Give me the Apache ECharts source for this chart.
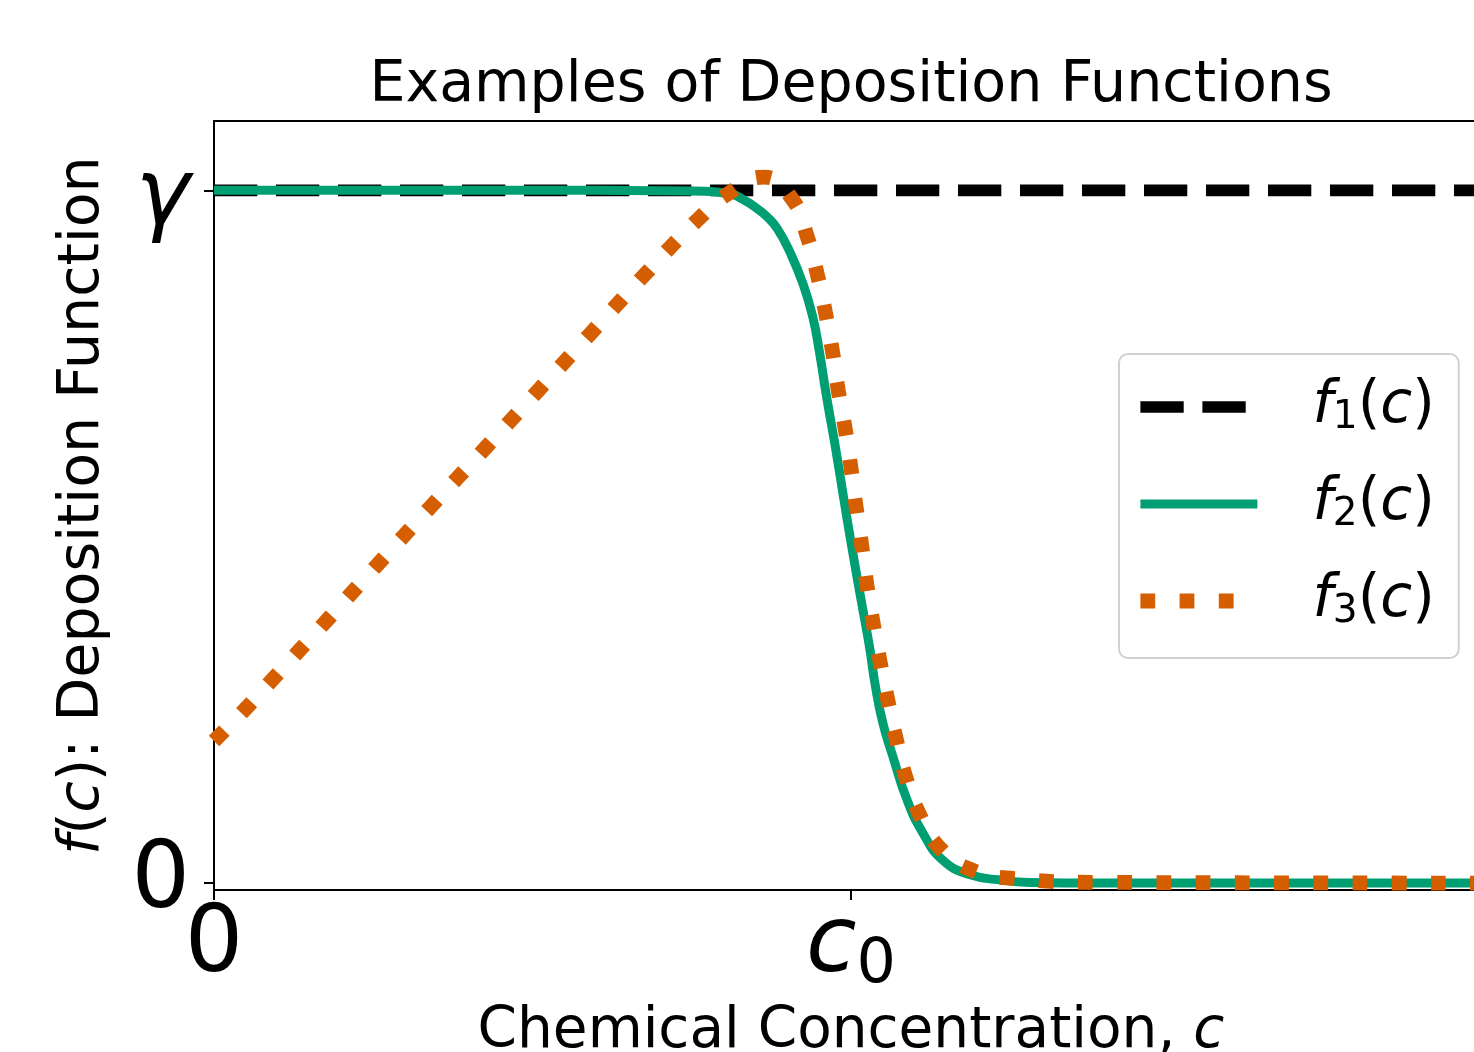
<!DOCTYPE html>
<html>
<head>
<meta charset="utf-8">
<script src="https://cdn.jsdelivr.net/npm/echarts@6/dist/echarts.min.js"></script>
<style>
html,body{margin:0;padding:0;background:#fff;}
#chart{width:1474px;height:1052px;}
</style>
</head>
<body>
<div id="chart"></div>
<script>
// ---------------- data ----------------
const seriesNames = ['f1', 'f2', 'f3'];

const f1C    = [0, 2];
const f1Vals = [1, 1];

const f2C    = [0, 0.449, 0.747, 0.810, 0.830, 0.852, 0.868, 0.884, 0.904, 0.925, 0.940, 0.950, 0.962, 0.975, 0.989, 1.002, 1.016, 1.029, 1.038, 1.050, 1.066, 1.088, 1.113, 1.144, 1.187, 1.239, 1.281, 1.391, 2.0];
const f2Vals = [1, 1, 0.999, 0.995, 0.987, 0.974, 0.962, 0.945, 0.911, 0.864, 0.817, 0.769, 0.700, 0.632, 0.553, 0.481, 0.408, 0.341, 0.286, 0.231, 0.182, 0.120, 0.072, 0.033, 0.012, 0.004, 0.001, 0, 0];

const f3C    = [0, 0.048, 0.090, 0.173, 0.257, 0.341, 0.424, 0.508, 0.592, 0.676, 0.761, 0.807, 0.863, 0.908, 0.931, 0.947, 0.960, 0.971, 0.980, 0.991, 1.000, 1.008, 1.017, 1.025, 1.035, 1.046, 1.058, 1.071, 1.086, 1.107, 1.140, 1.189, 1.250, 1.400, 2.000];
const f3Vals = [0.205, 0.250, 0.292, 0.375, 0.460, 0.544, 0.626, 0.710, 0.794, 0.878, 0.959, 0.995, 1.019, 0.987, 0.934, 0.879, 0.823, 0.767, 0.711, 0.655, 0.599, 0.543, 0.486, 0.430, 0.374, 0.318, 0.263, 0.208, 0.153, 0.100, 0.050, 0.019, 0.007, 0.001, 0];

const xTickValues = [0, 1];
const xTickLabels = ['{n|0}', '{i|c}{s|0}'];
const yTickValues = [0, 1];
const yTickLabels = ['{n|0}', '{g|γ}'];
const legendLabels = ['{g|f}{s|1}{n|(}{i|c}{n|)}', '{g|f}{s|2}{n|(}{i|c}{n|)}', '{g|f}{s|3}{n|(}{i|c}{n|)}'];

const titleText = 'Examples of Deposition Functions';
const xName = '{n|Chemical Concentration, }{i|c}';
const yName = '{i|f}{n|(}{i|c}{n|): Deposition Function}';

// ---------------- styling ----------------
const FONT = 'DejaVu Sans';
const BLACK = '#000000', GREEN = '#009E73', ORANGE = '#D55E00';
const TXT = 57;
const LEG = 58;

function zip(a, b) { return a.map((v, i) => [v, b[i]]); }

const chart = echarts.init(document.getElementById('chart'), null, {renderer: 'canvas'});

const tickRich = {
  n: {fontFamily: FONT, fontSize: 92, lineHeight: 100, color: '#000'},
  i: {fontFamily: FONT, fontSize: 92, lineHeight: 100, fontStyle: 'italic', color: '#000'},
  g: {fontFamily: FONT, fontSize: 92, lineHeight: 100, fontStyle: 'italic', color: '#000', padding: [20, 0, 0, 0]},
  s: {fontFamily: FONT, fontSize: 62, lineHeight: 59, verticalAlign: 'bottom', color: '#000'}
};
const yNameRich = {
  n: {fontFamily: FONT, fontSize: TXT, lineHeight: TXT, color: '#000'},
  i: {fontFamily: FONT, fontSize: TXT, lineHeight: TXT, fontStyle: 'italic', color: '#000'}
};
const xNameRich = {
  n: {fontFamily: FONT, fontSize: 56.5, lineHeight: 56.5, color: '#000'},
  i: {fontFamily: FONT, fontSize: 56.5, lineHeight: 56.5, fontStyle: 'italic', color: '#000'}
};

const lineStyles = [
  {color: BLACK, width: 11.7, type: [43.3, 18.7], cap: 'butt'},
  {color: GREEN, width: 9, type: 'solid', cap: 'butt'},
  {color: ORANGE, width: 14.8, type: [14.8, 24.4], cap: 'butt'}
];

const option = {
  animation: false,
  backgroundColor: '#ffffff',
  title: {
    text: titleText,
    left: 851, top: 58, textAlign: 'center', padding: 0,
    textStyle: {fontFamily: FONT, fontSize: TXT, fontWeight: 'normal', color: '#000', lineHeight: TXT}
  },
  grid: {
    left: 214, top: 121, width: 1274, height: 769,
    outerBoundsMode: 'none', containLabel: false,
    show: true, borderColor: '#000', borderWidth: 2, backgroundColor: 'transparent'
  },
  xAxis: {
    type: 'value', min: 0, max: 2,
    name: xName, nameLocation: 'middle', nameGap: 114,
    nameTextStyle: {rich: xNameRich, fontFamily: FONT, fontSize: 56.5, color: '#000'},
    axisLine: {show: true, onZero: false, lineStyle: {color: '#000', width: 2}},
    axisTick: {show: true, length: 10, inside: false, customValues: xTickValues, lineStyle: {color: '#000', width: 2}},
    axisLabel: {
      show: true, margin: 7, customValues: xTickValues,
      formatter: v => xTickLabels[xTickValues.indexOf(v)],
      rich: tickRich
    },
    splitLine: {show: false}
  },
  yAxis: {
    type: 'value', min: -0.01, max: 1.1,
    name: yName, nameLocation: 'middle', nameGap: 102,
    nameTextStyle: {rich: yNameRich, fontFamily: FONT, fontSize: TXT, color: '#000'},
    axisLine: {show: true, onZero: false, lineStyle: {color: '#000', width: 2}},
    axisTick: {show: true, length: 10, inside: false, customValues: yTickValues, lineStyle: {color: '#000', width: 2}},
    axisLabel: {
      show: true, margin: 24, customValues: yTickValues,
      formatter: v => yTickLabels[yTickValues.indexOf(v)],
      rich: tickRich
    },
    splitLine: {show: false}
  },
  legend: {
    orient: 'vertical', left: 1119, top: 354,
    padding: [23, 24, 27, 14],
    itemWidth: 117, itemHeight: 14, itemGap: 37,
    selectedMode: false,
    backgroundColor: 'rgba(255,255,255,0.8)',
    borderColor: '#d0d0d0', borderWidth: 2, borderRadius: 9,
    data: seriesNames.map((n, k) => ({name: n, lineStyle: lineStyles[k], itemStyle: {opacity: 0}})),
    formatter: name => legendLabels[seriesNames.indexOf(name)],
    textStyle: {
      fontFamily: FONT, fontSize: LEG, color: '#000', lineHeight: 60,
      rich: {
        g: {fontFamily: FONT, fontSize: LEG, lineHeight: 60, fontStyle: 'italic', color: '#000', padding: [0, 0, 0, 50]},
        i: {fontFamily: FONT, fontSize: LEG, lineHeight: 60, fontStyle: 'italic', color: '#000'},
        n: {fontFamily: FONT, fontSize: LEG, lineHeight: 60, color: '#000'},
        s: {fontFamily: FONT, fontSize: 39, lineHeight: 30, verticalAlign: 'bottom', color: '#000'}
      }
    }
  },
  series: [
    {name: seriesNames[0], type: 'line', data: zip(f1C, f1Vals), symbol: 'none', showSymbol: false,
     lineStyle: lineStyles[0], z: 2},
    {name: seriesNames[1], type: 'line', data: zip(f2C, f2Vals), symbol: 'none', showSymbol: false,
     smooth: 0.5, lineStyle: lineStyles[1], z: 3},
    {name: seriesNames[2], type: 'line', data: zip(f3C, f3Vals), symbol: 'none', showSymbol: false,
     smooth: 0.5, lineStyle: lineStyles[2], z: 4}
  ]
};
chart.setOption(option);
</script>
</body>
</html>
